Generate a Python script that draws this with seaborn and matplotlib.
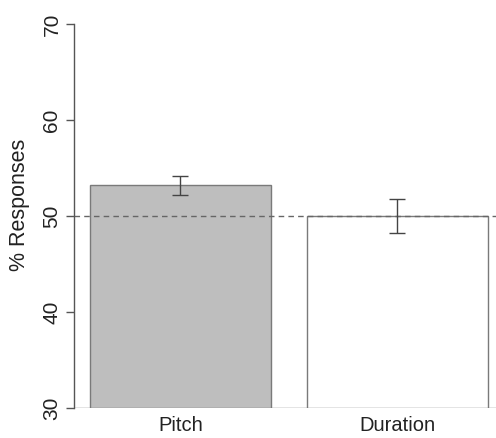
import matplotlib
matplotlib.use("Agg")
import matplotlib.pyplot as plt
import seaborn as sns
import pandas as pd

sns.set_style("ticks")
plt.rcParams["font.family"] = ["Liberation Sans", "DejaVu Sans"]

# ── data ─────────────────────────────────────────────────────────────────────
conditions = ["Pitch", "Duration"]
means = [53.2, 50.0]
errors = [1.0, 1.8]
fills = ["#bebebe", "#ffffff"]
chance = 50
y_ticks = [30, 40, 50, 60, 70]

df = pd.DataFrame({"cond": conditions, "pct": means})

# ── plot ─────────────────────────────────────────────────────────────────────
fig = plt.figure(figsize=(4.96, 4.38), dpi=100)
ax = fig.add_axes([0.149, 0.0685, 0.851, 0.8765])

sns.barplot(data=df, x="cond", y="pct", hue="cond", palette=fills, width=0.834,
            edgecolor="#7a7a7a", linewidth=1.0, legend=False, ax=ax)
ax.errorbar(range(len(conditions)), means, yerr=errors, fmt="none",
            ecolor="#444444", elinewidth=1.0, capsize=6, capthick=1.0, zorder=5)
ax.axhline(chance, color="#666666", linestyle=(0, (4, 3)), linewidth=1.0, zorder=1)
ax.axhline(30, color="#7a7a7a", linewidth=1.0, zorder=1)

ax.set_xlim(-0.491, 1.454)
ax.set_ylim(30, 70)
ax.set_yticks(y_ticks)
ax.set_yticklabels([str(t) for t in y_ticks], rotation=90, va="center")
ax.set_xlabel("")
ax.set_ylabel("% Responses", fontsize=15.5, color="#222222")
ax.yaxis.set_label_coords(-0.105, 0.53)

ax.tick_params(axis="y", length=6, width=1.0, color="#555555", labelsize=15,
               labelcolor="#222222", pad=3)
ax.tick_params(axis="x", length=0, labelsize=14.5, labelcolor="#222222", pad=6)

for side in ["top", "right", "bottom"]:
    ax.spines[side].set_visible(False)
ax.spines["left"].set_color("#555555")
ax.spines["left"].set_linewidth(1.0)

plt.savefig("out.png", dpi=100)
plt.close()
